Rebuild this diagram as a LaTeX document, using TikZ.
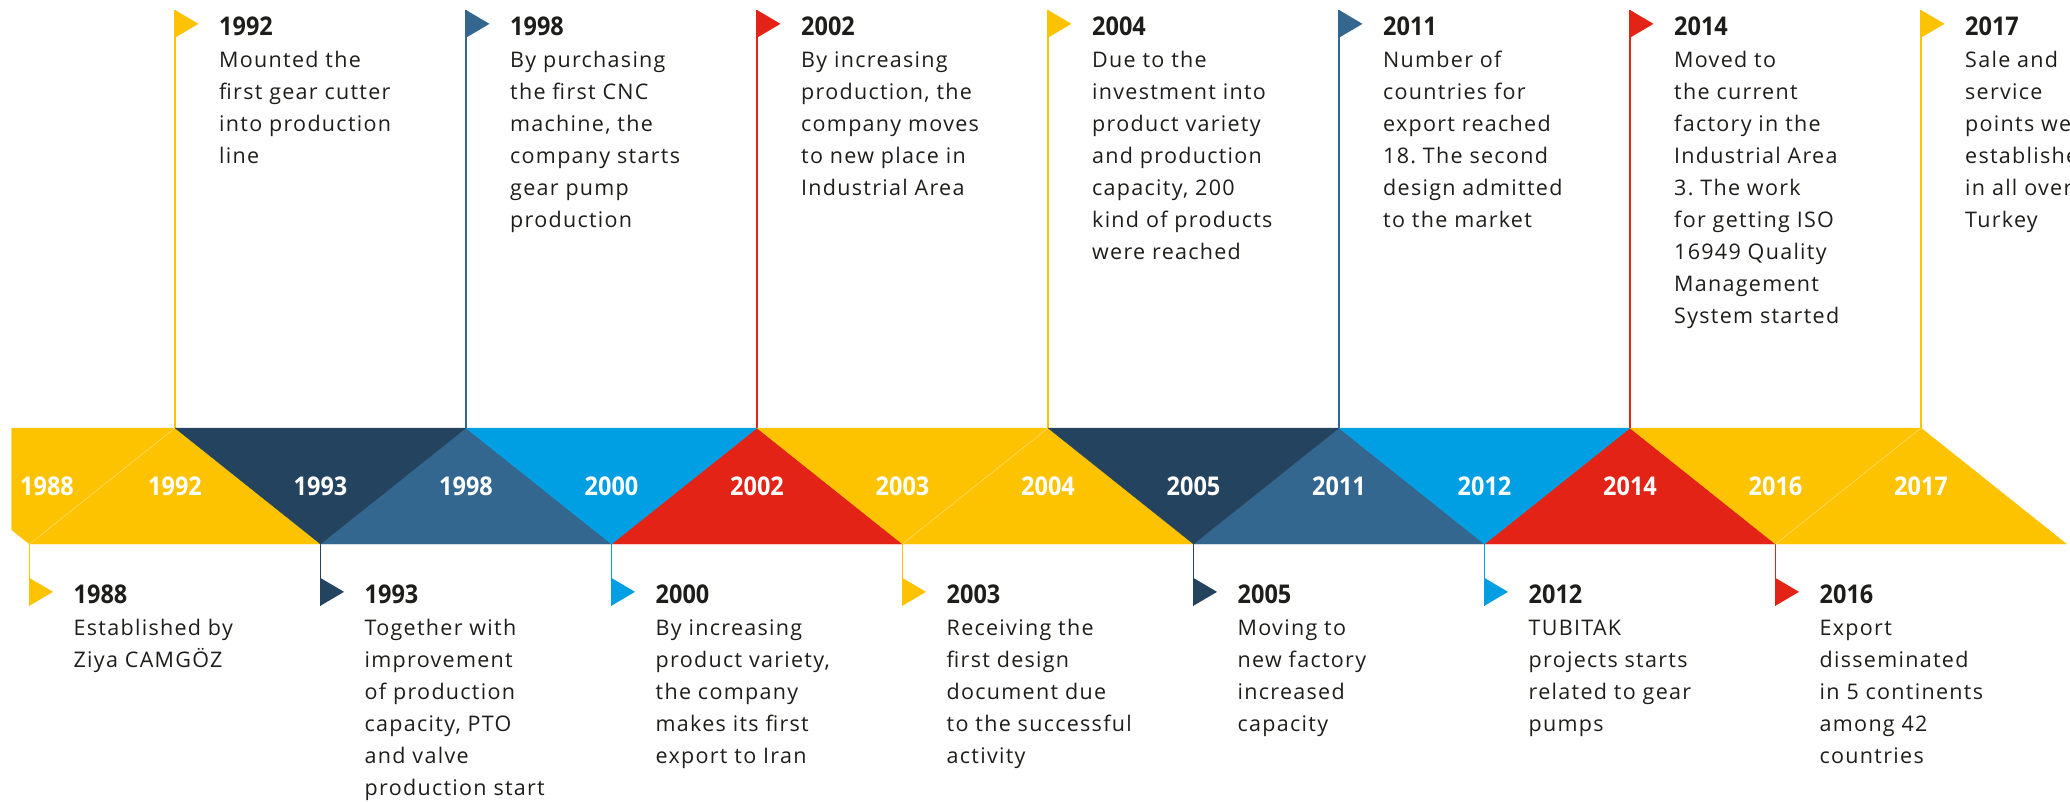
\documentclass[tikz,border=0pt]{standalone}
\usepackage{graphicx}
\usepackage{fontspec}
\setmainfont{Open Sans}[LetterSpace=6]
\newfontfamily\yrfont{Open Sans}
\definecolor{tyellow}{HTML}{FDC300}
\definecolor{tnavy}{HTML}{24435E}
\definecolor{tsteel}{HTML}{34678F}
\definecolor{tblue}{HTML}{009FE3}
\definecolor{tred}{HTML}{E32315}
\definecolor{ttext}{HTML}{1D1D1B}
\tikzset{
  pole/.style={line width=1.4pt},
  seam/.style={draw=white, draw opacity=0.45, line width=0.5pt},
  bandlabel/.style={text=white, inner sep=0pt, font=\yrfont\bfseries\fontsize{25.8}{30}\selectfont},
  evtext/.style={anchor=base west, inner sep=0pt, text=ttext},
}
% #1 name, #2 x, #3 flag top y, #4 colour, #5 year, #6 lines
\newcommand\tlflag[6]{%
  \coordinate (#1f) at (#2,#3);
  \coordinate (#1fb) at (#2,#3+27.7);
  \fill[#4] (#1f) -- ++(23.5,13.85) -- (#1fb) -- cycle;
  \node[evtext] (#1) at (#2+44,#3+25.7) {\parbox[t]{236pt}{\raggedright\frenchspacing\fontsize{21.5}{32}\selectfont
    {\yrfont\bfseries\fontsize{25.8}{32}\selectfont\scalebox{0.91}[1]{#5}}\\#6}};
}
\begin{document}
\begin{tikzpicture}[x=1pt,y=-1pt]
\useasboundingbox (0,0) rectangle (2070,801);
% band vertices
\foreach \i in {0,...,7}{
  \coordinate (t\i) at (175+291*\i,428);
  \coordinate (b\i) at (29.5+291*\i,544);
}
\coordinate (lt) at (11.7,428);
\coordinate (lb) at (11.7,530);

% flags above
\tlflag{e1992}{175}{10}{tyellow}{1992}{Mounted the\\first gear cutter\\into production\\line}
\tlflag{e1998}{466}{10}{tsteel}{1998}{By purchasing\\the first CNC\\machine, the\\company starts\\gear pump\\production}
\tlflag{e2002}{757}{10}{tred}{2002}{By increasing\\production, the\\company moves\\to new place in\\Industrial Area}
\tlflag{e2004}{1048}{10}{tyellow}{2004}{Due to the\\investment into\\product variety\\and production\\capacity, 200\\kind of products\\were reached}
\tlflag{e2011}{1339}{10}{tsteel}{2011}{Number of\\countries for\\export reached\\18. The second\\design admitted\\to the market}
\tlflag{e2014}{1630}{10}{tred}{2014}{Moved to\\the current\\factory in the\\Industrial Area\\3. The work\\for getting ISO\\16949 Quality\\Management\\System started}
\tlflag{e2017}{1921}{10}{tyellow}{2017}{Sale and\\service\\points were\\established\\in all over\\Turkey}
% flags below
\tlflag{e1988}{29.5}{578}{tyellow}{1988}{Established by\\Ziya CAMGÖZ}
\tlflag{e1993}{320.5}{578}{tnavy}{1993}{Together with\\improvement\\of production\\capacity, PTO\\and valve\\production start}
\tlflag{e2000}{611.5}{578}{tblue}{2000}{By increasing\\product variety,\\the company\\makes its first\\export to Iran}
\tlflag{e2003}{902.5}{578}{tyellow}{2003}{Receiving the\\first design\\document due\\to the successful\\activity}
\tlflag{e2005}{1193.5}{578}{tnavy}{2005}{Moving to\\new factory\\increased\\capacity}
\tlflag{e2012}{1484.5}{578}{tblue}{2012}{TUBITAK\\projects starts\\related to gear\\pumps}
\tlflag{e2016}{1775.5}{578}{tred}{2016}{Export\\disseminated\\in 5 continents\\among 42\\countries}

% poles
\draw[pole,tyellow] (t0) -- (e1992f);
\draw[pole,tsteel] (t1) -- (e1998f);
\draw[pole,tred] (t2) -- (e2002f);
\draw[pole,tyellow] (t3) -- (e2004f);
\draw[pole,tsteel] (t4) -- (e2011f);
\draw[pole,tred] (t5) -- (e2014f);
\draw[pole,tyellow] (t6) -- (e2017f);
\draw[pole,tyellow] (b0) -- (e1988fb);
\draw[pole,tnavy] (b1) -- (e1993fb);
\draw[pole,tblue] (b2) -- (e2000fb);
\draw[pole,tyellow] (b3) -- (e2003fb);
\draw[pole,tnavy] (b4) -- (e2005fb);
\draw[pole,tblue] (b5) -- (e2012fb);
\draw[pole,tred] (b6) -- (e2016fb);

% band pieces
\filldraw[tyellow, line width=0.3pt] (lt) -- (t0) -- (b0) -- (lb) -- cycle;
\foreach \k/\c in {0/tyellow,1/tsteel,2/tred,3/tyellow,4/tsteel,5/tred,6/tyellow}{
  \pgfmathtruncatemacro{\kn}{\k+1}
  \filldraw[\c, line width=0.3pt] (t\k) -- (b\kn) -- (b\k) -- cycle;
}
\foreach \k/\c in {0/tnavy,1/tblue,2/tyellow,3/tnavy,4/tblue,5/tyellow}{
  \pgfmathtruncatemacro{\kn}{\k+1}
  \filldraw[\c, line width=0.3pt] (t\k) -- (t\kn) -- (b\kn) -- cycle;
}
\draw[seam] (t0) -- (b0);
\draw[seam] (t3) -- (b3);
\draw[seam] (t6) -- (b6);

% band labels
\node[bandlabel] (l1988) at (47,486) {\scalebox{0.91}[1]{1988}};
\node[bandlabel] (l1992) at (175,486) {\scalebox{0.91}[1]{1992}};
\node[bandlabel] (l1993) at (320.5,486) {\scalebox{0.91}[1]{1993}};
\node[bandlabel] (l1998) at (466,486) {\scalebox{0.91}[1]{1998}};
\node[bandlabel] (l2000) at (611.5,486) {\scalebox{0.91}[1]{2000}};
\node[bandlabel] (l2002) at (757,486) {\scalebox{0.91}[1]{2002}};
\node[bandlabel] (l2003) at (902.5,486) {\scalebox{0.91}[1]{2003}};
\node[bandlabel] (l2004) at (1048,486) {\scalebox{0.91}[1]{2004}};
\node[bandlabel] (l2005) at (1193.5,486) {\scalebox{0.91}[1]{2005}};
\node[bandlabel] (l2011) at (1339,486) {\scalebox{0.91}[1]{2011}};
\node[bandlabel] (l2012) at (1484.5,486) {\scalebox{0.91}[1]{2012}};
\node[bandlabel] (l2014) at (1630,486) {\scalebox{0.91}[1]{2014}};
\node[bandlabel] (l2016) at (1775.5,486) {\scalebox{0.91}[1]{2016}};
\node[bandlabel] (l2017) at (1921,486) {\scalebox{0.91}[1]{2017}};
\end{tikzpicture}
\end{document}
